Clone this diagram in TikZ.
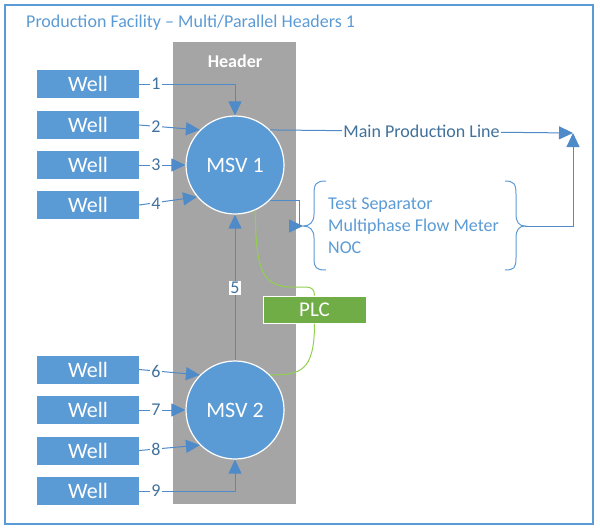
\documentclass[tikz,border=0pt]{standalone}
\usepackage{fontspec}
\setmainfont{Carlito}
\usetikzlibrary{arrows.meta}
\definecolor{blu}{HTML}{5B9BD5}
\definecolor{dblu}{HTML}{41719C}
\definecolor{lineblu}{HTML}{4F8AC9}
\definecolor{hdrgray}{HTML}{A5A5A5}
\definecolor{plcg}{HTML}{70AD47}
\definecolor{wire}{HTML}{92D050}
\begin{document}
\begin{tikzpicture}[x=1pt,y=-1pt,
  wellbox/.style={rectangle, fill=blu, minimum width=102pt, minimum height=28pt, inner sep=0pt, text=white, font=\fontsize{22}{24}\selectfont},
  msv/.style={circle, fill=blu, draw=white, line width=1.2pt, minimum size=98pt, inner sep=0pt, text=white, font=\fontsize{22}{24}\selectfont},
  conn/.style={draw=lineblu, line width=1pt},
  arr/.style={-{Triangle[length=14pt,width=13pt]}},
  lbl/.style={fill=white, inner sep=1pt, text=dblu, font=\fontsize{18}{20}\selectfont},
  brace/.style={draw=blu, line width=1pt},
  wireline/.style={draw=wire, line width=1pt}
]
\useasboundingbox (0,0) rectangle (600,531);
\draw[blu, line width=1.5pt] (5,5) rectangle (593,524);
\node[anchor=west, inner sep=0pt, text=blu, font=\fontsize{18}{20}\selectfont] (title) at (26,23) {Production Facility – Multi/Parallel Headers 1};

\fill[hdrgray] (173,42) rectangle (296,504);
\node[text=white, font=\bfseries\fontsize{18}{20}\selectfont] (hdrlbl) at (235,61) {Header};

\node[wellbox] (w1) at (88,84) {Well};
\node[wellbox] (w2) at (88,125) {Well};
\node[wellbox] (w3) at (88,165) {Well};
\node[wellbox] (w4) at (88,205) {Well};
\node[wellbox] (w6) at (88,369.5) {Well};
\node[wellbox] (w7) at (88,410) {Well};
\node[wellbox] (w8) at (88,450.5) {Well};
\node[wellbox] (w9) at (88,491) {Well};

\node[msv] (m1) at (235,165) {MSV 1};
\node[msv] (m2) at (235,410) {MSV 2};

\node[fill=plcg, draw=white, line width=1pt, minimum width=103pt, minimum height=27pt, inner sep=0pt, text=white, font=\fontsize{21}{22}\selectfont] (plc) at (314.5,309.5) {PLC};

\coordinate (bl) at (303,226);
\coordinate (br) at (525,226);
\coordinate (jn) at (573,133);

% green wires
\draw[wireline] (m1.-66) .. controls (256,268) and (261,287) .. (292,287) -- (306,287) .. controls (312,287) and (314.5,290) .. (plc.north);
\draw[wireline] (plc.south) .. controls (314.5,372) and (300,375) .. (m2.45);

% well connectors
\draw[conn,arr] (w1.east) -| (m1.north);
\draw[conn,arr] (w2.east) -- (m1.135);
\draw[conn,arr] (w3.east) -- (m1.west);
\draw[conn,arr] (w4.east) -- (m1.220);
\draw[conn,arr] (w6.east) -- (m2.135);
\draw[conn,arr] (w7.east) -- (m2.west);
\draw[conn,arr] (w8.east) -- (m2.225);
\draw[conn,arr] (w9.east) -| (m2.south);
\draw[conn,arr] (m2.north) -- (m1.south);

\node[lbl] (l1) at (156,84) {1};
\node[lbl] (l2) at (156,127) {2};
\node[lbl] (l3) at (156,165) {3};
\node[lbl] (l4) at (156,204) {4};
\node[lbl] (l5) at (235,288) {5};
\node[lbl] (l6) at (156,371) {6};
\node[lbl] (l7) at (156,410) {7};
\node[lbl] (l8) at (156,449) {8};
\node[lbl] (l9) at (156,491) {9};

% main production line
\draw[conn,arr] (m1.45) -- node[lbl, pos=0.5] (mpl) {Main Production Line} (jn);
\draw[conn,arr] (br) -| (jn);
\draw[conn,arr] (m1.-45) -| (299,226) -- (bl);

% braces
\draw[brace] (326,181) .. controls (316,181) and (314,184) .. (314,194) -- (314,214) .. controls (314,222) and (310,226) .. (bl) .. controls (310,226) and (314,230) .. (314,238) -- (314,258) .. controls (314,268) and (316,270) .. (326,270);
\draw[brace] (505,181) .. controls (514,181) and (516,184) .. (516,194) -- (516,214) .. controls (516,222) and (519,226) .. (br) .. controls (519,226) and (516,230) .. (516,238) -- (516,258) .. controls (516,268) and (514,270) .. (505,270);

\node[anchor=west, inner sep=0pt, align=left, text=blu, font=\fontsize{18}{22}\selectfont] (ts) at (328,226) {Test Separator\\Multiphase Flow Meter\\NOC};
\end{tikzpicture}
\end{document}
